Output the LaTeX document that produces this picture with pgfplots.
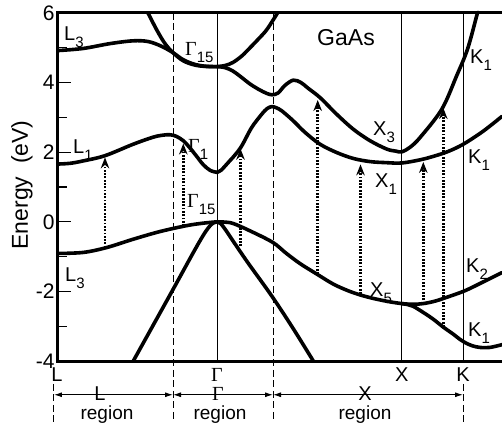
\documentclass[border=0pt]{standalone}
\usepackage{pgfplots}
\pgfplotsset{compat=1.18}
\usepackage{fontspec}
\setmainfont{Liberation Sans}
\newfontfamily\serifG{Liberation Serif}
\usetikzlibrary{arrows.meta}
\newcommand{\sub}[1]{\raisebox{-0.33em}{\fontsize{15}{15}\selectfont #1}}
\newcommand{\Gm}{{\serifG Γ}}
\tikzset{lbl/.style={font=\fontsize{20}{20}\selectfont, inner sep=0pt}}
\begin{document}
\begin{tikzpicture}
\useasboundingbox (-58pt,-64pt) rectangle (444pt,361pt);
\begin{axis}[
  at={(0pt,0pt)}, anchor=south west, scale only axis,
  width=444pt, height=348pt,
  xmin=0, xmax=444, ymin=-4, ymax=6,
  clip=false,
  axis line style={draw=none},
  xtick=\empty,
  ytick={-4,-2,0,2,4,6},
  yticklabels={-4,-2,0,2,4,6},
  minor ytick={-3,-1,1,3,5},
  ytick pos=left,
  tick align=inside,
  major tick length=13pt,
  minor tick length=9pt,
  every tick/.style={black, line width=1.3pt},
  yticklabel style={font=\fontsize{21}{21}\selectfont},
  curve/.style={black, line width=3.6pt, line cap=round, line join=round, smooth, tension=0.55, no marks},
  thinv/.style={black, line width=0.9pt, no marks},
  dashv/.style={black, line width=1pt, dash pattern=on 7pt off 3.5pt, no marks},
  dotarrow/.style={black, line width=2.8pt, dash pattern=on 1.8pt off 1.5pt, no marks, -{Stealth[length=11pt,width=8.5pt]}},
  regarrow/.style={black, line width=1pt, no marks, {Latex[length=8pt,width=5pt]}-{Latex[length=8pt,width=5pt]}},
]
% vertical guide lines
\addplot[thinv] coordinates {(159,-4) (159,6)};
\addplot[thinv] coordinates {(343.7,-4) (343.7,6)};
\addplot[thinv] coordinates {(405,-4) (405,6)};
\addplot[dashv] coordinates {(115,6) (115,-5.75)};
\addplot[dashv] coordinates {(215,6) (215,-5.75)};
\addplot[dashv] coordinates {(-4,-4.66) (-4,-5.75)};
\addplot[dashv] coordinates {(405,-4.66) (405,-5.75)};

% conduction bands
\addplot[curve] coordinates {(0,4.92) (25,4.98) (52,5.12) (75,5.2) (90,5.18) (103,5.05) (115,4.86) (125,4.66) (136,4.53) (147,4.47) (159,4.46)};
\addplot[curve] coordinates {(90,6.0) (99,5.5) (107,5.12) (115,4.86) (125,4.63) (136,4.51) (147,4.465) (159,4.46)};
\addplot[curve] coordinates {(159,4.46) (167,4.49) (175,4.58) (184,4.77) (192,5.0) (201,5.27) (209,5.53) (219.5,6.0)};
\addplot[curve] coordinates {(159,4.46) (167,4.43) (175,4.33) (184,4.14) (192,3.96) (201,3.8) (208.7,3.69) (214,3.65) (220,3.7) (227,3.92) (235.3,4.07) (243,4.0) (250,3.84) (262,3.57) (278.7,3.09) (295.3,2.66) (312,2.33) (328.7,2.09) (338,2.03) (343.7,2.01) (352,2.14) (362,2.42) (383.7,3.23) (398.7,4.2) (409.5,4.96) (418.7,5.92) (419.5,6.0)};
\addplot[curve] coordinates {(0,1.66) (12,1.68) (25.3,1.75) (47,1.9) (75.3,2.23) (95,2.43) (105,2.49) (112,2.5) (118,2.46) (125.3,2.33) (132,2.12) (138.7,1.88) (145,1.65) (152,1.48) (159,1.42)};
\addplot[curve] coordinates {(159,1.42) (163,1.48) (167,1.6) (172,1.76) (177,1.92) (183.7,2.18) (193.7,2.71) (203.7,3.09) (209,3.25) (213.7,3.31) (218,3.28) (223.7,3.19) (235.3,2.9) (247,2.57) (262,2.23) (278.7,1.99) (295.3,1.82) (312,1.73) (328,1.7) (343.7,1.69) (362,1.78) (375.3,1.88) (390,2.02) (405.3,2.23) (425,2.6) (444,3.03)};

% valence bands
\addplot[curve] coordinates {(0,-0.91) (25.3,-0.88) (48.7,-0.74) (75.3,-0.5) (102,-0.28) (128.7,-0.11) (145,-0.04) (159,0)};
\addplot[curve] coordinates {(159,0) (167,-0.01) (175.3,-0.05) (192,-0.26) (214.7,-0.59) (228,-0.9) (242,-1.2) (258.7,-1.5) (275.3,-1.79) (290,-1.98) (302,-2.1) (315,-2.2) (330,-2.29) (343.7,-2.35) (355,-2.37) (365.3,-2.35) (377,-2.28) (388.7,-2.17) (407,-1.98) (425,-1.73) (444,-1.46)};
\addplot[curve] coordinates {(343.7,-2.35) (350,-2.38) (355.3,-2.43) (365,-2.6) (375.3,-2.8) (385,-3.02) (395.3,-3.23) (402,-3.38) (407,-3.47) (414,-3.56) (422,-3.61) (432,-3.61) (444,-3.53)};
\addplot[curve] coordinates {(75.3,-4.0) (95,-2.98) (115.3,-1.93) (135,-0.9) (145,-0.4) (151,-0.15) (155,-0.04) (159,0)};
\addplot[curve] coordinates {(159,0) (163,-0.06) (168,-0.25) (175,-0.55) (190,-1.18) (213.7,-2.13) (235,-3.06) (255.3,-4.0)};

% transitions
\addplot[dotarrow] coordinates {(47,-0.74) (47,1.85)};
\addplot[dotarrow] coordinates {(125.3,-0.12) (125.3,2.25)};
\addplot[dotarrow] coordinates {(182.5,-0.7) (182.5,2.1)};
\addplot[dotarrow] coordinates {(259.7,-1.5) (259.7,3.5)};
\addplot[dotarrow] coordinates {(302.5,-2.07) (302.5,1.65)};
\addplot[dotarrow] coordinates {(365.3,-2.35) (365.3,1.72)};
\addplot[dotarrow] coordinates {(385.3,-3.02) (385.3,3.27)};

% frame (left, top, bottom)
\addplot[black, line width=3pt, no marks, line cap=rect] coordinates {(444,6) (0,6) (0,-4) (444,-4)};

% region arrows
\addplot[regarrow] coordinates {(-4,-4.97) (115,-4.97)};
\addplot[regarrow] coordinates {(115,-4.97) (215,-4.97)};
\addplot[regarrow] coordinates {(215,-4.97) (405,-4.97)};

% band labels
\node[lbl, anchor=base west] at (axis cs:6,5.2) {L\sub{3}};
\node[lbl, anchor=base west] at (axis cs:127,4.77) {\Gm\sub{15}};
\node[font=\fontsize{23}{23}\selectfont, inner sep=0pt, anchor=base] at (axis cs:288,5.06) {GaAs};
\node[lbl, anchor=base west] at (axis cs:412,4.54) {K\sub{1}};
\node[lbl, anchor=base west] at (axis cs:15,1.95) {L\sub{1}};
\node[lbl, anchor=base west] at (axis cs:130,1.98) {\Gm\sub{1}};
\node[lbl, anchor=base west] at (axis cs:315,2.47) {X\sub{3}};
\node[lbl, anchor=base west] at (axis cs:410,1.67) {K\sub{1}};
\node[lbl, anchor=base west] at (axis cs:317,0.98) {X\sub{1}};
\node[lbl, anchor=base west] at (axis cs:129,0.40) {\Gm\sub{15}};
\node[lbl, anchor=base west] at (axis cs:7,-1.72) {L\sub{3}};
\node[lbl, anchor=base west] at (axis cs:312,-2.16) {X\sub{5}};
\node[lbl, anchor=base west] at (axis cs:408,-1.47) {K\sub{2}};
\node[lbl, anchor=base west] at (axis cs:410,-3.30) {K\sub{1}};

% k-point labels
\node[lbl, anchor=base] at (axis cs:-1,-4.60) {L};
\node[lbl, anchor=base] at (axis cs:159,-4.60) {\Gm};
\node[lbl, anchor=base] at (axis cs:343.7,-4.60) {X};
\node[lbl, anchor=base] at (axis cs:405,-4.60) {K};

% region labels
\node[lbl, anchor=base] at (axis cs:42,-5.13) {L};
\node[lbl, anchor=base] at (axis cs:160,-5.13) {\Gm};
\node[lbl, anchor=base] at (axis cs:307,-5.13) {X};
\node[font=\fontsize{19}{19}\selectfont, inner sep=0pt, anchor=base] at (axis cs:49,-5.69) {region};
\node[font=\fontsize{19}{19}\selectfont, inner sep=0pt, anchor=base] at (axis cs:162,-5.69) {region};
\node[font=\fontsize{19}{19}\selectfont, inner sep=0pt, anchor=base] at (axis cs:307,-5.69) {region};

% y label
\node[font=\fontsize{23}{23}\selectfont, inner sep=0pt, rotate=90, anchor=center] at (axis cs:-36,1.06) {Energy\ \ (eV)};
\end{axis}
\end{tikzpicture}
\end{document}
